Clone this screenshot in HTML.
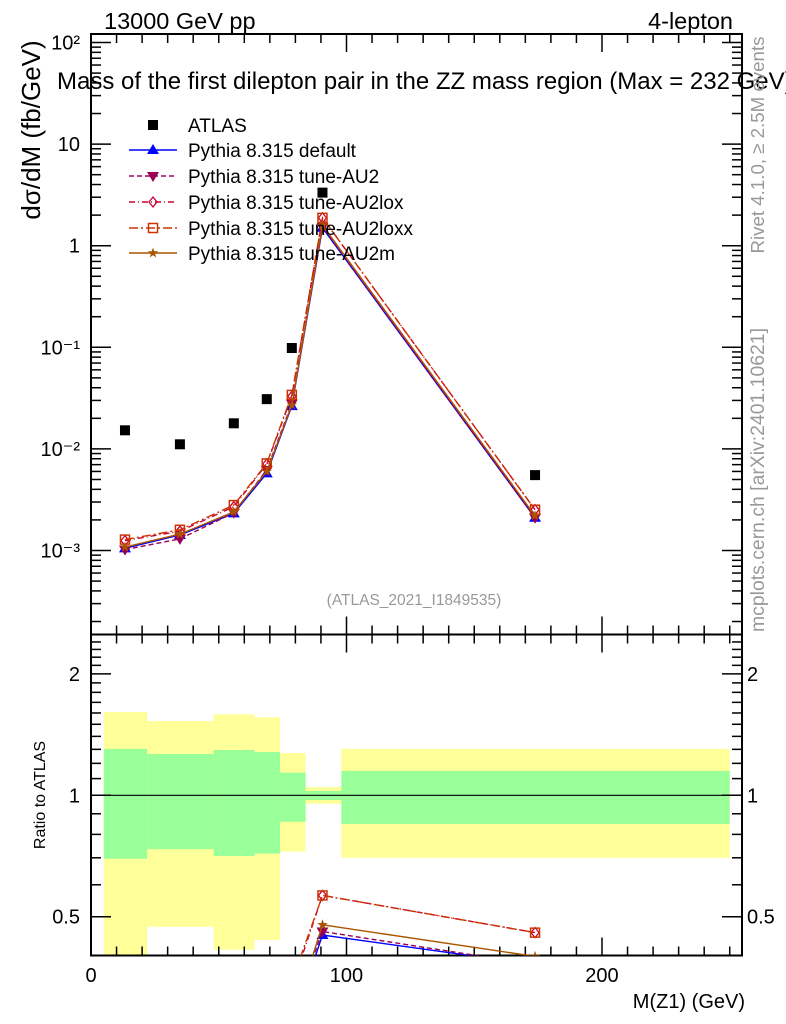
<!DOCTYPE html>
<html><head><meta charset="utf-8">
<style>
html,body{margin:0;padding:0;background:#fff;width:786px;height:1024px;overflow:hidden;}
svg{display:block;font-family:"Liberation Sans","DejaVu Sans",sans-serif;}
</style></head>
<body>
<svg id="chart" width="786" height="1024" viewBox="0 0 786 1024" xmlns="http://www.w3.org/2000/svg" overflow="hidden">
<defs>
<clipPath id="clipMain"><rect x="91" y="34" width="651" height="600.5"/></clipPath>
<clipPath id="clipRatio"><rect x="91" y="634.5" width="651" height="321"/></clipPath>
</defs>
<g id="bands" clip-path="url(#clipRatio)"></g>
<g id="axes"></g>
<g id="series"></g>
<g id="labels">
<text x="104" y="29" font-size="23.5">13000 GeV pp</text>
<text x="733" y="29" font-size="23.5" text-anchor="end">4-lepton</text>
<text x="57" y="89" font-size="24">Mass of the first dilepton pair in the ZZ mass region (Max = 232 GeV)</text>
<text transform="translate(40,130) rotate(-90)" font-size="26" text-anchor="middle">dσ/dM (fb/GeV)</text>
<text transform="translate(45,795) rotate(-90)" font-size="16" text-anchor="middle">Ratio to ATLAS</text>
<text x="745" y="1008" font-size="20" text-anchor="end">M(Z1) (GeV)</text>
<text x="414" y="605" font-size="15.5" fill="#999" text-anchor="middle">(ATLAS_2021_I1849535)</text>
<text transform="translate(764,145) rotate(-90)" font-size="18.7" fill="#999" text-anchor="middle">Rivet 4.1.0, ≥ 2.5M events</text>
<text transform="translate(764,480) rotate(-90)" font-size="19.4" fill="#999" text-anchor="middle">mcplots.cern.ch [arXiv:2401.10621]</text>
</g>
<g id="legend"></g>
</svg>
<script>
const binLo = [5, 22, 48, 64, 74, 84, 98];
const binHi = [22, 48, 64, 74, 84, 98, 250];
const binMid = [13.3, 34.8, 55.9, 68.8, 78.6, 90.6, 173.8];
const atlas = [0.01524, 0.0111, 0.01786, 0.0309, 0.0984, 3.33, 0.00552];
const bandYellowHi = [1.609, 1.528, 1.588, 1.561, 1.273, 1.048, 1.303];
const bandGreenHi = [1.303, 1.266, 1.295, 1.28, 1.138, 1.025, 1.149];
const bandGreenLo = [0.696, 0.735, 0.707, 0.717, 0.86, 0.973, 0.849];
const bandYellowLo = [0.3, 0.472, 0.414, 0.438, 0.725, 0.953, 0.70];
const mcDefault = [0.00105, 0.00142, 0.00232, 0.00575, 0.0264, 1.50, 0.0021];
const mcAU2 = [0.00102, 0.0013, 0.00235, 0.0062, 0.028, 1.53, 0.0021];
const mcAU2lox = [0.00125, 0.00155, 0.0027, 0.0071, 0.033, 1.88, 0.00252];
const mcAU2loxx = [0.00128, 0.0016, 0.0028, 0.0072, 0.034, 1.88, 0.00252];
const mcAU2m = [0.00108, 0.00145, 0.0024, 0.006, 0.027, 1.59, 0.0022];
const xTicks = [0, 100, 200];
const yMainTicks = [-3, -2, -1, 0, 1, 2];
const yMainLabels = ["10⁻³", "10⁻²", "10⁻¹", "1", "10", "10²"];
const yRatioTicks = [0.5, 1, 2];
const yRatioLabels = ["0.5", "1", "2"];

const NS = "http://www.w3.org/2000/svg";
const X0 = 91, X1 = 742, XMIN = 0, XMAX = 254.8;
const MT = 34, MB = 634.5, RB = 955.5;
function sx(v){ return X0 + (v - XMIN) / (XMAX - XMIN) * (X1 - X0); }
function syMain(v){ return 245.7 - 101.6 * Math.log10(v); }
function syRatio(v){ return 795.3 - 403.3 * Math.log10(v); }
function mk(tag, attrs, parent){
  const e = document.createElementNS(NS, tag);
  for (const k in attrs) e.setAttribute(k, attrs[k]);
  parent.appendChild(e); return e;
}
const axes = document.getElementById('axes');
const bands = document.getElementById('bands');
const series = document.getElementById('series');
const legend = document.getElementById('legend');

for (let i = 0; i < binLo.length; i++) {
  const x = sx(binLo[i]), w = sx(binHi[i]) - sx(binLo[i]);
  const y1 = mk('rect', {x:x, y:syRatio(bandYellowHi[i]), width:w, height:syRatio(bandYellowLo[i]) - syRatio(bandYellowHi[i]), fill:'#ffff99'}, bands);
  
  
  const g1 = mk('rect', {x:x, y:syRatio(bandGreenHi[i]), width:w, height:syRatio(bandGreenLo[i]) - syRatio(bandGreenHi[i]), fill:'#99ff99'}, bands);
  
  
}
const ref = mk('line', {x1:X0, x2:X1, y1:syRatio(1), y2:syRatio(1), stroke:'#000', 'stroke-width':1.2}, bands);



function frame(top, bot, name){
  const r = mk('rect', {x:X0, y:top, width:X1 - X0, height:bot - top, fill:'none', stroke:'#000', 'stroke-width':2}, axes);
  
  
}
frame(MT, MB, 'main-frame');
frame(MB, RB, 'ratio-frame');
function tick(x1, y1, x2, y2){ mk('line', {x1:x1, y1:y1, x2:x2, y2:y2, stroke:'#000', 'stroke-width':1.5}, axes); }
for (let v = 0; v <= 250; v += 10) {
  const x = sx(v), L = (v % 100 === 0) ? 18 : 9;
  tick(x, MB, x, MB - L); tick(x, MT, x, MT + L);
  tick(x, RB, x, RB - L); tick(x, MB, x, MB + L);
}
for (let i = 0; i < xTicks.length; i++) {
  const t = mk('text', {x:sx(xTicks[i]), y:982, 'font-size':20, 'text-anchor':'middle'}, axes);
  t.textContent = xTicks[i];
  
  
}
for (let d = -4; d <= 2; d++) {
  for (let m = 1; m <= 9; m++) {
    const v = m * Math.pow(10, d), y = syMain(v);
    if (y < MT || y > MB) continue;
    const L = m === 1 ? 20 : 10;
    tick(X0, y, X0 + L, y); tick(X1, y, X1 - L, y);
  }
}
for (let i = 0; i < yMainTicks.length; i++) {
  const t = mk('text', {x:80, y:syMain(Math.pow(10, yMainTicks[i])) + 7, 'font-size':20, 'text-anchor':'end'}, axes);
  t.textContent = yMainLabels[i];
  
  
}
const rMinor = [0.4,0.5,0.6,0.7,0.8,0.9,1,1.1,1.2,1.3,1.4,1.5,1.6,1.7,1.8,1.9,2,2.1,2.2,2.3,2.4];
for (const v of rMinor) {
  const y = syRatio(v);
  if (y < MB || y > RB) continue;
  const L = (v === 0.5 || v === 1 || v === 2) ? 20 : 10;
  tick(X0, y, X0 + L, y); tick(X1, y, X1 - L, y);
}
for (let i = 0; i < yRatioTicks.length; i++) {
  const y = syRatio(yRatioTicks[i]) + 7;
  const t = mk('text', {x:80, y:y, 'font-size':20, 'text-anchor':'end'}, axes);
  t.textContent = yRatioLabels[i];
  
  
  const t2 = mk('text', {x:747, y:y, 'font-size':20}, axes);
  t2.textContent = yRatioLabels[i];
  
  
}

function marker(type, x, y, color, parent){
  if (type === 'sq') return mk('rect', {x:x-5, y:y-5, width:10, height:10, fill:color}, parent);
  if (type === 'up') return mk('polygon', {points:`${x},${y-6} ${x-6},${y+4} ${x+6},${y+4}`, fill:color}, parent);
  if (type === 'down') return mk('polygon', {points:`${x},${y+6} ${x-6},${y-4} ${x+6},${y-4}`, fill:color}, parent);
  if (type === 'dia') return mk('polygon', {points:`${x},${y-5} ${x-4},${y} ${x},${y+5} ${x+4},${y}`, fill:'none', stroke:color, 'stroke-width':1.3}, parent);
  if (type === 'osq') return mk('rect', {x:x-4.5, y:y-4.5, width:9, height:9, fill:'none', stroke:color, 'stroke-width':1.5}, parent);
  if (type === 'star') {
    let p = [];
    for (let k = 0; k < 10; k++) { const r = k % 2 ? 2.2 : 5.5, a = -Math.PI/2 + k*Math.PI/5; p.push((x + r*Math.cos(a)).toFixed(1) + ',' + (y + r*Math.sin(a)).toFixed(1)); }
    return mk('polygon', {points:p.join(' '), fill:color}, parent);
  }
}
const mcs = [
  {name:'Pythia 8.315 default', key:'default', vals:mcDefault, color:'#0000ff', dash:'', mk:'up'},
  {name:'Pythia 8.315 tune-AU2', key:'au2', vals:mcAU2, color:'#990055', dash:'5,3', mk:'down'},
  {name:'Pythia 8.315 tune-AU2lox', key:'au2lox', vals:mcAU2lox, color:'#cc0033', dash:'6,3,1,3', mk:'dia'},
  {name:'Pythia 8.315 tune-AU2loxx', key:'au2loxx', vals:mcAU2loxx, color:'#cc3300', dash:'9,3,2,3', mk:'osq'},
  {name:'Pythia 8.315 tune-AU2m', key:'au2m', vals:mcAU2m, color:'#aa5500', dash:'', mk:'star'}
];
const gMain = mk('g', {'clip-path':'url(#clipMain)'}, series);
const gRatio = mk('g', {'clip-path':'url(#clipRatio)'}, series);
for (const s of mcs) {
  const pm = s.vals.map((v, i) => sx(binMid[i]).toFixed(1) + ',' + syMain(v).toFixed(1)).join(' ');
  const l = mk('polyline', {points:pm, fill:'none', stroke:s.color, 'stroke-width':1.4, 'stroke-dasharray':s.dash}, gMain);
  
  
  const pr = s.vals.map((v, i) => sx(binMid[i]).toFixed(1) + ',' + syRatio(v / atlas[i]).toFixed(1)).join(' ');
  const lr = mk('polyline', {points:pr, fill:'none', stroke:s.color, 'stroke-width':1.4, 'stroke-dasharray':s.dash}, gRatio);
  
  
  s.vals.forEach((v, i) => {
    const m = marker(s.mk, sx(binMid[i]), syMain(v), s.color, gMain);
    
    
    const m2 = marker(s.mk, sx(binMid[i]), syRatio(v / atlas[i]), s.color, gRatio);
    
    
  });
}
atlas.forEach((v, i) => {
  const m = marker('sq', sx(binMid[i]), syMain(v), '#000', gMain);
  
  
});

const ly = [125, 150, 176, 202, 228, 253];
const le0 = mk('g', {}, legend);


marker('sq', 153, ly[0], '#000', le0);
const t0 = mk('text', {x:188, y:ly[0] + 7, 'font-size':19}, le0); t0.textContent = 'ATLAS';
mcs.forEach((s, i) => {
  const g = mk('g', {}, legend);
  
  
  const y = ly[i + 1];
  mk('line', {x1:129, x2:177, y1:y, y2:y, stroke:s.color, 'stroke-width':1.4, 'stroke-dasharray':s.dash}, g);
  marker(s.mk, 153, y, s.color, g);
  const t = mk('text', {x:188, y:y + 7, 'font-size':19}, g); t.textContent = s.name;
});
</script>
</body></html>
